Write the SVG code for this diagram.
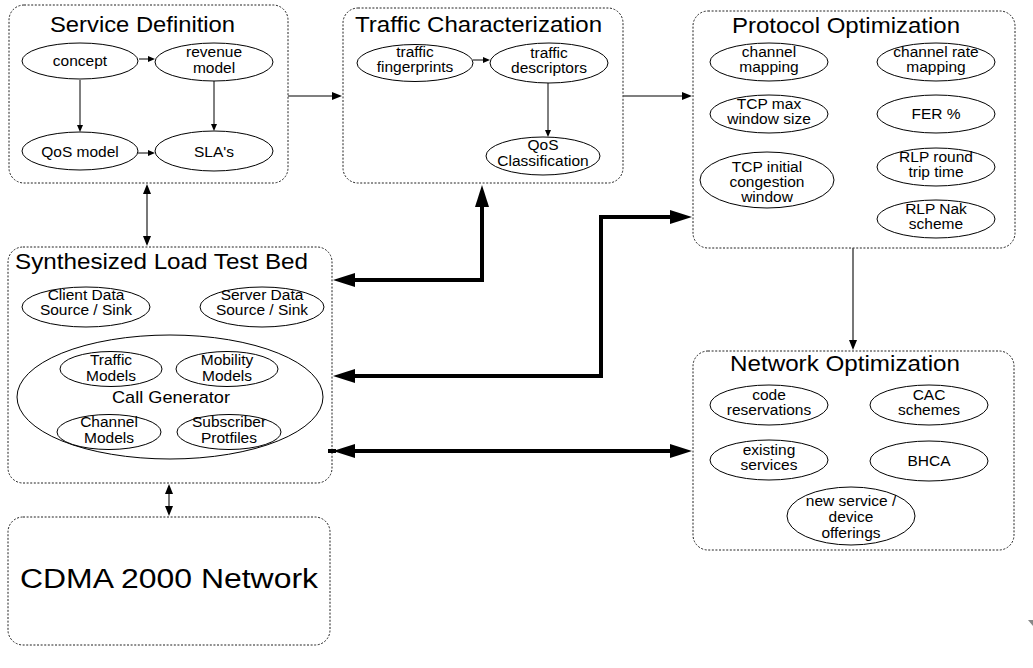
<svg xmlns="http://www.w3.org/2000/svg" width="1033" height="668" viewBox="0 0 1033 668">
<style>
.box{fill:none;stroke:#222;stroke-width:1;stroke-dasharray:2,1.6}
.el{fill:#fff;stroke:#000;stroke-width:1}
.t{font-family:"Liberation Sans",Arial,sans-serif;font-size:15.5px;fill:#000;text-anchor:middle}
.ttl{font-family:"Liberation Sans",Arial,sans-serif;font-size:22px;fill:#000}
.cg{font-family:"Liberation Sans",Arial,sans-serif;font-size:17px;fill:#000;text-anchor:middle}
.big{font-family:"Liberation Sans",Arial,sans-serif;font-size:27px;fill:#000}
.thin{fill:none;stroke:#000;stroke-width:1}
.grey{fill:none;stroke:#555;stroke-width:1.6}
.thick{fill:none;stroke:#000;stroke-width:4;stroke-linejoin:miter}
</style>
<defs>
<marker id="ms" viewBox="0 0 7 6" markerWidth="7" markerHeight="6" refX="1" refY="3" orient="auto-start-reverse" markerUnits="userSpaceOnUse"><path d="M0,0 L7,3 L0,6 z" fill="#000"/></marker>
<marker id="mg" viewBox="0 0 10 8" markerWidth="10" markerHeight="8" refX="2" refY="4" orient="auto-start-reverse" markerUnits="userSpaceOnUse"><path d="M0,0 L10,4 L0,8 z" fill="#000"/></marker>
<marker id="mt" viewBox="0 0 22 14" markerWidth="22" markerHeight="14" refX="4" refY="7" orient="auto-start-reverse" markerUnits="userSpaceOnUse"><path d="M0,0 L22,7 L0,14 z" fill="#000"/></marker>
</defs>

<g id="service-definition">
<rect class="box" x="9" y="5" width="279" height="178" rx="15"/>
<text class="ttl" x="50" y="32" textLength="185" lengthAdjust="spacingAndGlyphs">Service Definition</text>
<ellipse class="el" cx="80" cy="61" rx="58" ry="18"/><text class="t" x="80" y="66">concept</text>
<ellipse class="el" cx="214" cy="62" rx="59" ry="19"/><text class="t" x="214" y="57">revenue</text><text class="t" x="214" y="72.5">model</text>
<ellipse class="el" cx="80" cy="151" rx="58" ry="19"/><text class="t" x="80" y="157">QoS model</text>
<ellipse class="el" cx="214" cy="151" rx="59" ry="20"/><text class="t" x="214" y="157">SLA's</text>
</g>

<g id="traffic-characterization">
<rect class="box" x="343" y="8" width="280" height="175" rx="15"/>
<text class="ttl" x="355" y="32" textLength="247" lengthAdjust="spacingAndGlyphs">Traffic Characterization</text>
<ellipse class="el" cx="415" cy="63" rx="58" ry="18.5"/><text class="t" x="415" y="57">traffic</text><text class="t" x="415" y="72">fingerprints</text>
<ellipse class="el" cx="549" cy="63" rx="59" ry="20"/><text class="t" x="549" y="58">traffic</text><text class="t" x="549" y="73">descriptors</text>
<ellipse class="el" cx="543" cy="156" rx="57" ry="19"/><text class="t" x="543" y="150">QoS</text><text class="t" x="543" y="166">Classification</text>
</g>

<g id="protocol-optimization">
<rect class="box" x="693" y="11" width="322" height="237" rx="15"/>
<text class="ttl" x="732" y="33" textLength="228" lengthAdjust="spacingAndGlyphs">Protocol Optimization</text>
<ellipse class="el" cx="769" cy="62" rx="59" ry="19"/><text class="t" x="769" y="57">channel</text><text class="t" x="769" y="72">mapping</text>
<ellipse class="el" cx="936" cy="62" rx="59" ry="19"/><text class="t" x="936" y="57">channel rate</text><text class="t" x="936" y="72">mapping</text>
<ellipse class="el" cx="769" cy="114" rx="59" ry="19"/><text class="t" x="769" y="109">TCP max</text><text class="t" x="769" y="124">window size</text>
<ellipse class="el" cx="936" cy="114" rx="59" ry="19"/><text class="t" x="936" y="119">FER %</text>
<ellipse class="el" cx="767" cy="180" rx="67" ry="28"/><text class="t" x="767" y="172">TCP initial</text><text class="t" x="767" y="187">congestion</text><text class="t" x="767" y="202">window</text>
<ellipse class="el" cx="936" cy="167" rx="59" ry="19"/><text class="t" x="936" y="162">RLP round</text><text class="t" x="936" y="177">trip time</text>
<ellipse class="el" cx="936" cy="219" rx="59" ry="19"/><text class="t" x="936" y="214">RLP Nak</text><text class="t" x="936" y="229">scheme</text>
</g>

<g id="synthesized-load-test-bed">
<rect class="box" x="8" y="247" width="324" height="236" rx="15"/>
<text class="ttl" x="15" y="269" textLength="293" lengthAdjust="spacingAndGlyphs">Synthesized Load Test Bed</text>
<ellipse class="el" cx="86" cy="307" rx="64" ry="20"/><text class="t" x="86" y="300">Client Data</text><text class="t" x="86" y="315">Source / Sink</text>
<ellipse class="el" cx="262" cy="307" rx="62" ry="20"/><text class="t" x="262" y="300">Server Data</text><text class="t" x="262" y="315">Source / Sink</text>
<ellipse class="el" cx="170" cy="397" rx="153" ry="62"/>
<text class="cg" x="171" y="403" textLength="118" lengthAdjust="spacingAndGlyphs">Call Generator</text>
<ellipse class="el" cx="111" cy="369" rx="51" ry="17.5"/><text class="t" x="111" y="365">Traffic</text><text class="t" x="111" y="381">Models</text>
<ellipse class="el" cx="227" cy="369" rx="51" ry="17.5"/><text class="t" x="227" y="365">Mobility</text><text class="t" x="227" y="381">Models</text>
<ellipse class="el" cx="109" cy="432" rx="52" ry="17.5"/><text class="t" x="109" y="427">Channel</text><text class="t" x="109" y="443">Models</text>
<ellipse class="el" cx="229" cy="432" rx="52" ry="17.5"/><text class="t" x="229" y="427">Subscriber</text><text class="t" x="229" y="443">Protfiles</text>
</g>

<g id="network-optimization">
<rect class="box" x="693" y="351" width="321" height="199" rx="15"/>
<text class="ttl" x="730" y="371" textLength="230" lengthAdjust="spacingAndGlyphs">Network Optimization</text>
<ellipse class="el" cx="769" cy="405" rx="59" ry="20"/><text class="t" x="769" y="400">code</text><text class="t" x="769" y="415">reservations</text>
<ellipse class="el" cx="929" cy="405" rx="59" ry="20"/><text class="t" x="929" y="400">CAC</text><text class="t" x="929" y="415">schemes</text>
<ellipse class="el" cx="769" cy="460" rx="59" ry="20"/><text class="t" x="769" y="455">existing</text><text class="t" x="769" y="470">services</text>
<ellipse class="el" cx="929" cy="461" rx="59" ry="20"/><text class="t" x="929" y="466">BHCA</text>
<ellipse class="el" cx="851" cy="516" rx="64" ry="29"/><text class="t" x="851" y="506">new service /</text><text class="t" x="851" y="522">device</text><text class="t" x="851" y="538">offerings</text>
</g>

<g id="cdma-2000-network">
<rect class="box" x="8" y="517" width="322" height="128" rx="15"/>
<text class="big" x="20" y="588" textLength="298" lengthAdjust="spacingAndGlyphs">CDMA 2000 Network</text>
</g>

<g id="connectors">
<path class="thin" d="M139,59 H149" marker-end="url(#ms)"/>
<path class="thin" d="M80,80 V126" marker-end="url(#ms)"/>
<path class="thin" d="M214,81 V125" marker-end="url(#ms)"/>
<path class="thin" d="M138,153 H149" marker-end="url(#ms)"/>
<path class="thin" d="M473,60 H484" marker-end="url(#ms)"/>
<path class="thin" d="M548,83 V131" marker-end="url(#ms)"/>
<path class="grey" d="M288,96 H334" marker-end="url(#mg)"/>
<path class="grey" d="M623,96 H684" marker-end="url(#mg)"/>
<path class="grey" d="M853,248 V342" marker-end="url(#mg)"/>
<path class="grey" d="M147,192 V238" marker-start="url(#mg)" marker-end="url(#mg)"/>
<path class="grey" d="M169,492 V508" marker-start="url(#mg)" marker-end="url(#mg)"/>
<path class="thick" d="M351,280 H482 V203" marker-start="url(#mt)" marker-end="url(#mt)"/>
<path class="thick" d="M351,376 H601 V217 H674" marker-start="url(#mt)" marker-end="url(#mt)"/>
<path class="thick" d="M351,451 H674" marker-start="url(#mt)" marker-end="url(#mt)"/>
<path class="thick" d="M328,451 H336"/>
</g>
<polygon points="1028,620 1033,620 1033,626" fill="#888"/>
</svg>
